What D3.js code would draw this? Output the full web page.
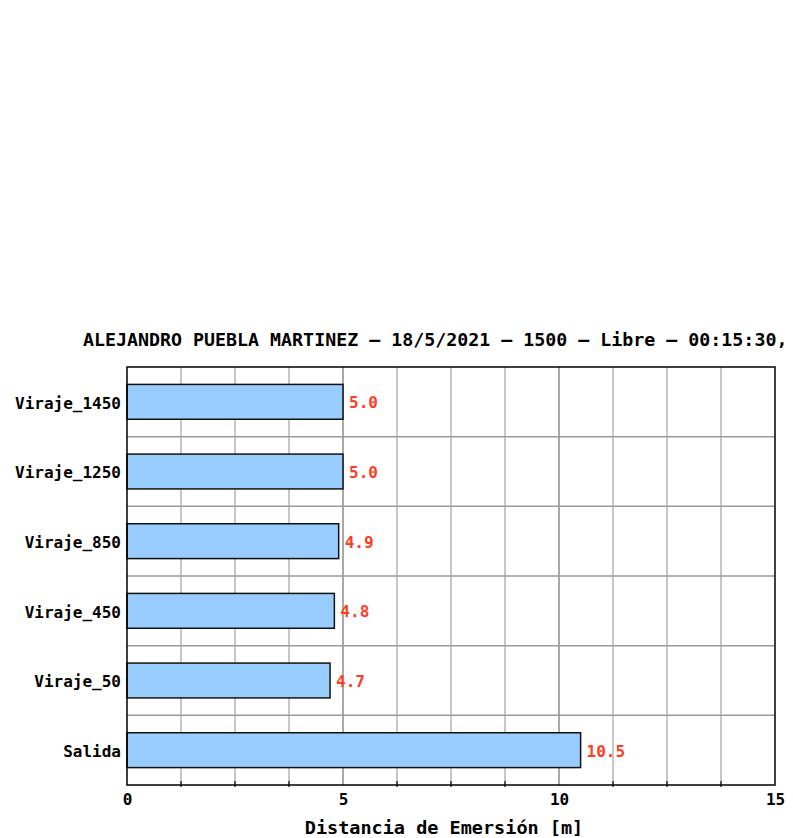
<!DOCTYPE html>
<html><head><meta charset="utf-8">
<script src="https://cdn.jsdelivr.net/npm/d3@7"></script>
<style>body{margin:0;background:#fff}svg{display:block}</style>
</head><body>
<script>
const categories = ["Viraje_1450","Viraje_1250","Viraje_850","Viraje_450","Viraje_50","Salida"];
const values = [5.0, 5.0, 4.9, 4.8, 4.7, 10.5];
const valueLabels = ["5.0","5.0","4.9","4.8","4.7","10.5"];
const majorTicks = [0, 5, 10, 15];
const minorTicks = [1.25, 2.5, 3.75, 5, 6.25, 7.5, 8.75, 10, 11.25, 12.5, 13.75];
const titleText = "ALEJANDRO PUEBLA MARTINEZ – 18/5/2021 – 1500 – Libre – 00:15:30,";
const xLabel = "Distancia de Emersión [m]";

const W = 793, H = 838;
const L = 127, R = 775, T = 367, B = 785;
const font = "'DejaVu Sans Mono', monospace";

const svg = d3.select("body").append("svg").attr("width", W).attr("height", H);
const x = d3.scaleLinear().domain([0, 15]).range([L, R]);
const y = d3.scaleBand().domain(categories).range([T, B]).paddingInner(0).paddingOuter(0);

// vertical grid
svg.append("g").selectAll("line").data(minorTicks).join("line")
  .attr("x1", d => x(d)).attr("x2", d => x(d)).attr("y1", T).attr("y2", B)
  .attr("stroke", d => (d % 5 === 0) ? "#8c8c8c" : "#b4b4b4").attr("stroke-width", 1.5);
// horizontal grid at band boundaries
svg.append("g").selectAll("line").data(categories.slice(1)).join("line")
  .attr("x1", L).attr("x2", R).attr("y1", d => y(d)).attr("y2", d => y(d))
  .attr("stroke", "#9a9a9a").attr("stroke-width", 1.5);

// bars
const bh = y.bandwidth() * 0.5;
svg.append("g").selectAll("rect").data(values).join("rect")
  .attr("x", x(0)).attr("y", (d, i) => y(categories[i]) + (y.bandwidth() - bh) / 2)
  .attr("width", d => x(d) - x(0)).attr("height", bh)
  .attr("fill", "#99ccff").attr("stroke", "#111").attr("stroke-width", 1.5);

// value labels
svg.append("g").selectAll("text").data(values).join("text")
  .attr("x", d => x(d) + 6).attr("y", (d, i) => y(categories[i]) + y.bandwidth() / 2 + 1)
  .attr("dy", "0.35em").attr("font-family", font).attr("font-weight", "bold")
  .attr("font-size", 16).attr("fill", "#ff3d1f").text((d, i) => valueLabels[i]);

// frame
svg.append("rect").attr("x", L).attr("y", T).attr("width", R - L).attr("height", B - T)
  .attr("fill", "none").attr("stroke", "#000").attr("stroke-width", 1.5);

// bottom axis
const xAxis = svg.append("g").attr("transform", `translate(0,${B})`)
  .call(d3.axisBottom(x).tickValues(majorTicks).tickSize(0).tickPadding(9).tickFormat(d3.format("d")));
xAxis.select(".domain").remove();
xAxis.selectAll("text").attr("font-family", font).attr("font-weight", "bold").attr("font-size", 16).attr("fill", "#000");
svg.append("g").selectAll("line").data(minorTicks.filter(d => d % 5 !== 0)).join("line")
  .attr("x1", d => x(d)).attr("x2", d => x(d)).attr("y1", B - 4).attr("y2", B + 2)
  .attr("stroke", "#000").attr("stroke-width", 1.2);

// left axis
const yAxis = svg.append("g").attr("transform", `translate(${L},0)`)
  .call(d3.axisLeft(y).tickSize(0).tickPadding(6));
yAxis.select(".domain").remove();
yAxis.selectAll("text").attr("font-family", font).attr("font-weight", "bold").attr("font-size", 16).attr("fill", "#000")
  .attr("dy", "0.42em");

// title
svg.append("text").attr("x", 83).attr("y", 346).attr("font-family", font).attr("font-weight", "bold")
  .attr("font-size", 18.3).attr("fill", "#000").text(titleText);

// x label
svg.append("text").attr("x", 444).attr("y", 834).attr("text-anchor", "middle")
  .attr("font-family", font).attr("font-weight", "bold").attr("font-size", 18.5).attr("fill", "#000").text(xLabel);
</script>
</body></html>
